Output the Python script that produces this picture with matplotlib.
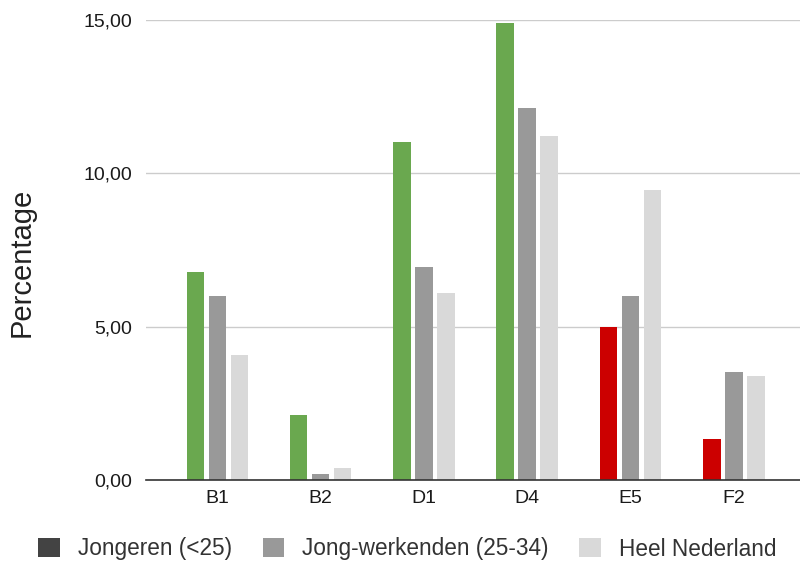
import matplotlib
matplotlib.use("Agg")
import matplotlib.pyplot as plt
from matplotlib.patches import Patch
import numpy as np

plt.rcParams['font.family'] = ['Liberation Sans', 'DejaVu Sans']

categories = ["B1", "B2", "D1", "D4", "E5", "F2"]
jongeren = [6.78, 2.12, 11.02, 14.90, 4.99, 1.34]
jong_werkenden = [6.00, 0.20, 6.95, 12.13, 6.00, 3.52]
heel_nederland = [4.08, 0.39, 6.10, 11.22, 9.46, 3.39]
jongeren_colors = ["#6aa84f", "#6aa84f", "#6aa84f", "#6aa84f", "#cc0000", "#cc0000"]
series_names = ["Jongeren (<25)", "Jong-werkenden (25-34)", "Heel Nederland"]
yticks = [0, 5, 10, 15]

fig = plt.figure(figsize=(8, 5.61), dpi=100)
ax = fig.add_axes([146 / 800, 81 / 561, 654 / 800, 460 / 561])

x = np.arange(len(categories))
w = 0.17
step = 0.213
ax.bar(x - step, jongeren, w, color=jongeren_colors, zorder=3)
ax.bar(x, jong_werkenden, w, color="#999999", zorder=3)
ax.bar(x + step, heel_nederland, w, color="#d9d9d9", zorder=3)

ax.set_ylim(0, 15)
ax.set_xlim(-0.69, 5.64)
ax.set_yticks(yticks)
ax.set_yticklabels([f"{v:.2f}".replace(".", ",") for v in yticks],
                   fontsize=14, color="#1a1a1a")
ax.set_xticks(x)
ax.set_xticklabels(categories, fontsize=14, color="#1a1a1a")
ax.tick_params(axis="both", length=0)
ax.tick_params(axis="y", pad=10)
ax.tick_params(axis="x", pad=7)
ax.grid(axis="y", color="#cccccc", linewidth=1, zorder=0)
for s in ["top", "right", "left"]:
    ax.spines[s].set_visible(False)
ax.spines["bottom"].set_color("#333333")
ax.spines["bottom"].set_linewidth(1.2)
ax.spines["bottom"].set_zorder(4)

ax.set_ylabel("Percentage", fontsize=21, color="#222222")
ax.yaxis.set_label_coords(-(146 - 36) / 654, (480 - 262) / 460)

handles = [Patch(facecolor=c, edgecolor="none") for c in ["#434343", "#999999", "#d9d9d9"]]
fig.legend(handles, series_names, loc="center left", bbox_to_anchor=(18 / 800, 12 / 561),
           ncol=3, frameon=False, fontsize=16.3, handlelength=0.95, handleheight=0.95,
           handletextpad=0.8, columnspacing=1.35, labelcolor="#333333")

fig.savefig("out.png", dpi=100)
